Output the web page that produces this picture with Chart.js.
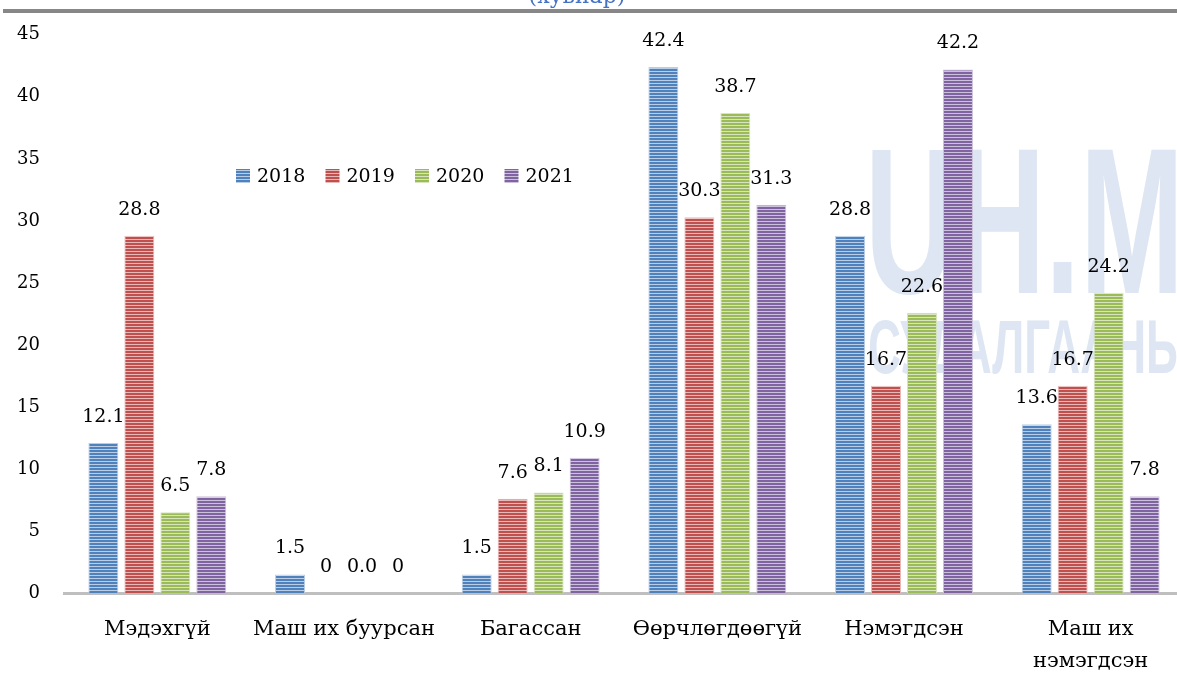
<!DOCTYPE html>
<html lang="mn">
<head>
<meta charset="UTF-8">
<title>Хувиар</title>
<script src="https://cdn.jsdelivr.net/npm/chart.js"></script>
<style>
    body {
        margin: 0;
        background: #fff;
        overflow: hidden;
    }
    .wrap {
        width: 1177px;
        height: 680px;
        overflow: hidden;
    }
</style>
</head>
<body>
<div class="wrap"><canvas id="chart" width="1184" height="680"></canvas></div>
<script>
const categories = ['Мэдэхгүй', 'Маш их буурсан', 'Багассан', 'Өөрчлөгдөөгүй', 'Нэмэгдсэн', ['Маш их', 'нэмэгдсэн']];
const years = ['2018', '2019', '2020', '2021'];

const values2018 = [12.1, 1.5, 1.5, 42.4, 28.8, 13.6];
const values2019 = [28.8, 0, 7.6, 30.3, 16.7, 16.7];
const values2020 = [6.5, 0.0, 8.1, 38.7, 22.6, 24.2];
const values2021 = [7.8, 0, 10.9, 31.3, 42.2, 7.8];

// labels as printed on the chart ("0" vs "0.0")
const labels2018 = ['12.1', '1.5', '1.5', '42.4', '28.8', '13.6'];
const labels2019 = ['28.8', '0', '7.6', '30.3', '16.7', '16.7'];
const labels2020 = ['6.5', '0.0', '8.1', '38.7', '22.6', '24.2'];
const labels2021 = ['7.8', '0', '10.9', '31.3', '42.2', '7.8'];

const yMin = 0, yMax = 45, yStep = 5;

const colors = ['#4f81bd', '#c0504d', '#9bbb59', '#8064a2'];
const lightColors = ['#b9cde6', '#e6b9b8', '#d7e4bd', '#ccc1da'];

const serif = '"DejaVu Serif", serif';

// striped fill like the office "horizontal lines" pattern
function stripes(base, light) {
    const c = document.createElement('canvas');
    c.width = 4;
    c.height = 3;
    const g = c.getContext('2d');
    g.fillStyle = base;
    g.fillRect(0, 0, 4, 2);
    g.fillStyle = light;
    g.fillRect(0, 2, 4, 1);
    return g.createPattern(c, 'repeat');
}

const ctx = document.getElementById('chart').getContext('2d');
const patterns = colors.map((c, i) => stripes(c, lightColors[i]));
const allValues = [values2018, values2019, values2020, values2021];
const allLabels = [labels2018, labels2019, labels2020, labels2021];

const decor = {
    id: 'decor',
    beforeDatasetsDraw(chart) {
        const c = chart.ctx;
        c.save();
        // watermark
        c.fillStyle = '#dde6f2';
        c.font = 'bold 208px "Liberation Sans", sans-serif';
        c.translate(865, 293);
        c.scale(0.6, 1);
        c.fillText('UH.MN', 0, 0);
        c.restore();
        c.save();
        c.fillStyle = '#dde6f2';
        c.font = 'bold 76px "Liberation Sans", sans-serif';
        c.translate(868, 373);
        c.scale(0.6, 1);
        c.fillText('СУДАЛГААНЫ', 0, 0);
        c.restore();
    },
    afterDatasetsDraw(chart) {
        const c = chart.ctx;
        c.save();
        c.font = '19px ' + serif;
        c.fillStyle = '#000';
        c.textAlign = 'center';
        c.textBaseline = 'middle';
        chart.data.datasets.forEach((ds, i) => {
            chart.getDatasetMeta(i).data.forEach((bar, j) => {
                c.fillText(allLabels[i][j], bar.x, bar.y - 26);
            });
        });
        c.restore();
    },
    afterDraw(chart) {
        const c = chart.ctx;
        c.save();
        // header rule and cut-off title
        c.fillStyle = '#878787';
        c.fillRect(3, 9, 1181, 4);
        c.fillStyle = '#4472c4';
        c.font = '22px ' + serif;
        c.textAlign = 'center';
        c.textBaseline = 'alphabetic';
        c.fillText('(хувиар)', 577, 3);

        // legend
        c.font = '19px ' + serif;
        c.textAlign = 'left';
        c.textBaseline = 'middle';
        const startX = 236, stepX = 89.5, cy = 176;
        chart.data.datasets.forEach((ds, i) => {
            const x = startX + i * stepX;
            c.fillStyle = ds.backgroundColor;
            c.fillRect(x, cy - 7, 14, 14);
            c.fillStyle = '#000';
            c.fillText(ds.label, x + 21, cy + 1);
        });
        c.restore();
    }
};

new Chart(ctx, {
    type: 'bar',
    data: {
        labels: categories,
        datasets: years.map((y, i) => ({
            label: y,
            data: allValues[i],
            backgroundColor: patterns[i],
            borderColor: lightColors[i],
            borderWidth: 1,
            categoryPercentage: 0.771,
            barPercentage: 0.833
        }))
    },
    options: {
        responsive: false,
        animation: false,
        layout: { padding: { top: 32, right: 0, bottom: 0, left: 0 } },
        plugins: {
            legend: { display: false },
            tooltip: { enabled: false }
        },
        scales: {
            x: {
                grid: { display: false },
                border: { color: '#bfbfbf', width: 3 },
                ticks: {
                    color: '#000',
                    font: { family: serif, size: 21, lineHeight: 1.5 },
                    padding: 13,
                    maxRotation: 0,
                    autoSkip: false
                },
                afterFit(s) { s.height = 87; }
            },
            y: {
                min: yMin,
                max: yMax,
                grid: { display: false, drawTicks: false },
                border: { display: false },
                ticks: {
                    stepSize: yStep,
                    color: '#000',
                    font: { family: serif, size: 18 },
                    padding: 24
                },
                afterFit(s) { s.width = 64; }
            }
        }
    },
    plugins: [decor]
});
</script>
</body>
</html>
